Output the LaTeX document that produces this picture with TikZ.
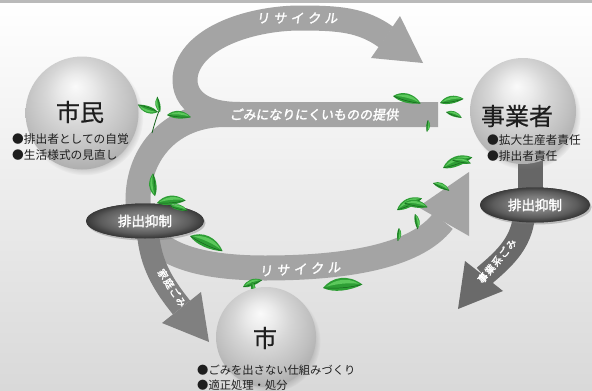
\documentclass[tikz,border=0pt]{standalone}
\usepackage{fontspec}
\newfontfamily\jp{Noto Sans CJK JP}
\newfontfamily\jpm[FakeBold=0.6]{Noto Sans CJK JP}
\newfontfamily\jpb[FakeBold=2]{Noto Sans CJK JP}
\newfontfamily\jpbs[FakeBold=2,FakeSlant=0.15]{Noto Sans CJK JP}
\usetikzlibrary{shadows,shapes.geometric}

\definecolor{bandgray}{HTML}{A4A4A4}
\definecolor{shaftL}{HTML}{808080}
\definecolor{shaftR}{HTML}{6A6A6A}
\definecolor{leafg}{HTML}{2E9E35}
\definecolor{leafl}{HTML}{5CC85C}
\definecolor{leafd}{HTML}{15601B}
\definecolor{inkc}{HTML}{1E1E1E}

% grey sphere with a highlight near the top (edge of the shape at 25bp)
\pgfdeclareradialshading{orb}{\pgfpoint{-3bp}{12bp}}{%
  color(0bp)=(black!2); color(7bp)=(black!8); color(14bp)=(black!16);
  color(24bp)=(black!25); color(34bp)=(black!36); color(40bp)=(black!42);
  color(50bp)=(black!42)}
% dark pill-shaped label
\pgfdeclareradialshading{pill}{\pgfpoint{0bp}{2bp}}{%
  color(0bp)=(black!44); color(11bp)=(black!52); color(19bp)=(black!64);
  color(25bp)=(black!78); color(50bp)=(black!80)}

% one slender leaf: position, angle, size
\newcommand\leafat[4]{%
  \begin{scope}[shift={(#1,#2)},rotate=#3,scale=#4]
    \fill[leafg] (0,0) .. controls (3,-3.2) and (8,-3.6) .. (12,0)
      .. controls (8,1.6) and (3,1.8) .. (0,0);
    \fill[leafl] (1,-0.3) .. controls (4,-2.4) and (8,-2.6) .. (11,-0.3)
      .. controls (8,-1) and (4,-0.9) .. (1,-0.3);
    \draw[leafd,line width=0.45pt] (0.3,0) .. controls (4,0.6) and (8,0.6) .. (11.7,0);
  \end{scope}}

\tikzset{
  band/.style={draw=bandgray,line width=25pt,line cap=butt},
  orbnode/.style={circle,shading=orb,inner sep=0pt,
    circular drop shadow={shadow xshift=3pt,shadow yshift=-4pt,opacity=.4,shadow scale=1.03}},
  pillnode/.style={ellipse,shading=pill,inner sep=0pt,text=white,
    font=\jpb\fontsize{13.5}{14}\selectfont,
    drop shadow={shadow xshift=1.5pt,shadow yshift=-2pt,opacity=.25}},
  bandtxt/.style={text=white,font=\jpbs\fontsize{13}{14}\selectfont,inner sep=0pt},
  arrtxt/.style={text=white,font=\jpb\fontsize{10}{11}\selectfont,inner sep=0pt},
  title/.style={text=inkc,font=\jpm\fontsize{24}{26}\selectfont},
  bullet/.style={anchor=west,text=inkc,inner sep=0pt,font=\jp\fontsize{11.7}{13}\selectfont},
}

\begin{document}
\begin{tikzpicture}[x=1pt,y=-1pt]
\useasboundingbox (0,0) rectangle (592,391);
% backdrop
\shade[top color=white, bottom color=black!15] (0,0) rectangle (592,391);
\fill[black!27] (0,0) rectangle (592,3);

% anchor points of the bands
\coordinate (upR) at (438,114.5);
\coordinate (upL) at (225,114.5);
\coordinate (loopL) at (138,200);
\coordinate (loopB) at (265,268);
\coordinate (loopE) at (443,221);
\coordinate (arcS) at (240,114.5);
\coordinate (arcE) at (386,37);

% big loop: provision band, left turn, lower recycling band
\draw[band] (upR) -- (upL) .. controls (172,114.5) and (138,152) .. (loopL)
  .. controls (138,248) and (185,268) .. (loopB)
  .. controls (340,268) and (415,258) .. (loopE);
\fill[bandgray] (469,172) -- (418,207) -- (469,236) -- cycle;

% upper recycling arc
\draw[band] (arcS) .. controls (185,114.5) and (180,84) .. (188,66)
  .. controls (203,32) and (260,18) .. (300,18)
  .. controls (340,18) and (362,20) .. (arcE);
\fill[bandgray] (423,63) -- (400,16) -- (371,58) -- cycle;

% band labels
\node[bandtxt] (lblTop) at (297,18) {リ\hspace{4pt}サ\hspace{4pt}イ\hspace{4pt}ク\hspace{4pt}ル};
\node[bandtxt] (lblMid) at (314,114.5) {ごみになりにくいものの提供};
\node[bandtxt,rotate=3] (lblBot) at (300,269) {リ\hspace{4pt}サ\hspace{4pt}イ\hspace{4pt}ク\hspace{4pt}ル};

% stem from the business sphere to its label
\fill[black!60] (518,156) rectangle (543,196);

% discharge-control labels
\node[pillnode,minimum width=118pt,minimum height=35pt] (yokuL) at (145,221) {};
\node[pillnode,minimum width=110pt,minimum height=35pt] (yokuR) at (535,205) {};

% household waste arrow
\coordinate (hhS) at (148,232);
\coordinate (hhE) at (181.5,307.5);
\draw[draw=shaftL,line width=22pt] (hhS) .. controls (150,265) and (165,287) .. (hhE);
\fill[shaftL] (209,342) -- (162,323) -- (201,292) -- cycle;
\node[arrtxt,rotate=-57] (hhTxt) at (172,288) {家\hspace{1pt}庭\hspace{1pt}ご\hspace{1pt}み};

% business waste arrow
\coordinate (bzS) at (524,215);
\coordinate (bzE) at (484,276);
\draw[draw=shaftR,line width=22pt] (bzS) .. controls (522,245) and (500,262) .. (bzE);
\fill[shaftR] (458,309) -- (465,261) -- (503,291) -- cycle;
\node[arrtxt,rotate=50] (bzTxt) at (497,261) {事\hspace{1pt}業\hspace{1pt}系\hspace{1pt}ご\hspace{1pt}み};

% pills redrawn on top of the arrow tails
\node[pillnode,minimum width=118pt,minimum height=35pt] at (yokuL) {排出抑制};
\node[pillnode,minimum width=110pt,minimum height=35pt] at (yokuR) {排出抑制};

% leaves
\draw[leafd,line width=0.8pt] (152,133) .. controls (155,122) and (157,116) .. (159,111);
\leafat{158}{112}{160}{1.8}
\leafat{160}{112}{100}{1.3}
\leafat{167}{115}{-5}{2.0}
\leafat{393}{96}{-15}{2.4}
\leafat{440}{103}{10}{2.0}
\leafat{446}{112}{-20}{1.4}
\leafat{428}{120}{-95}{1.0}
\leafat{443}{168}{20}{2.6}
\leafat{452}{160}{-10}{1.6}
\leafat{433}{183}{-25}{1.5}
\leafat{397}{210}{25}{2.3}
\leafat{404}{203}{-10}{2.0}
\leafat{415}{214}{-80}{1.3}
\leafat{399}{228}{-95}{1.1}
\leafat{155}{196}{95}{1.9}
\leafat{157}{203}{5}{2.4}
\leafat{170}{206}{-15}{1.5}
\leafat{190}{236}{-25}{3.0}
\leafat{243}{287}{20}{1.7}
\leafat{252}{282}{-85}{1.3}
\leafat{323}{288}{5}{3.3}

% spheres
\node[orbnode,minimum size=113pt] (shimin) at (82,113) {};
\node[orbnode,minimum size=106pt] (jigyo) at (523,111) {};
\node[orbnode,minimum size=100pt] (shi) at (266,337) {};

% sphere titles and notes
\node[title] (tShimin) at (80,112) {市民};
\node[bullet] (bS1) at (12,139) {●排出者としての自覚};
\node[bullet] (bS2) at (12,155) {●生活様式の見直し};
\node[title] (tJigyo) at (517,116) {事業者};
\node[bullet] (bJ1) at (487,140) {●拡大生産者責任};
\node[bullet] (bJ2) at (487,156) {●排出者責任};
\node[title] (tShi) at (265,338) {市};
\node[bullet,font=\jp\fontsize{11.3}{12}\selectfont] (bC1) at (197,370) {●ごみを出さない仕組みづくり};
\node[bullet,font=\jp\fontsize{11.3}{12}\selectfont] (bC2) at (197,385) {●適正処理・処分};
\end{tikzpicture}
\end{document}
